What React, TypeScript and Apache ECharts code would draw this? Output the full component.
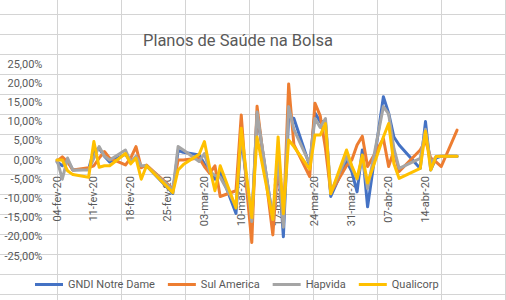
import React, { useEffect, useRef } from "react";
import * as echarts from "echarts";

const TITLE = "Planos de Saúde na Bolsa";
const MONTHS = ["jan", "fev", "mar", "abr", "mai", "jun", "jul", "ago", "set", "out", "nov", "dez"];
const FIRST_DAY = "2020-02-04";
const LAST_DAY = "2020-04-20";

const tradingDates = [
  "04-fev-20", "05-fev-20", "06-fev-20", "07-fev-20", "10-fev-20", "11-fev-20", "12-fev-20", "13-fev-20", "14-fev-20",
  "17-fev-20", "18-fev-20", "19-fev-20", "20-fev-20", "21-fev-20", "26-fev-20", "27-fev-20", "28-fev-20",
  "02-mar-20", "03-mar-20", "04-mar-20", "05-mar-20", "06-mar-20", "09-mar-20", "10-mar-20", "11-mar-20", "12-mar-20", "13-mar-20",
  "16-mar-20", "17-mar-20", "18-mar-20", "19-mar-20", "20-mar-20", "23-mar-20", "24-mar-20", "25-mar-20", "26-mar-20", "27-mar-20",
  "30-mar-20", "31-mar-20", "01-abr-20", "02-abr-20", "03-abr-20", "06-abr-20", "07-abr-20", "08-abr-20", "09-abr-20",
  "13-abr-20", "14-abr-20", "15-abr-20", "16-abr-20", "17-abr-20", "20-abr-20",
];

// daily returns, %
const gndi = [
  -0.5, -1.5, 0, -2.6, -2.4, 2.5, 3, 1, -0.5, 1.5, -0.5, 0.5, -1.8, -1.5, -8.7, 2.5, 2,
  1.3, -1, -3, -5, -3, -13.9, 6, -5, -16.5, 12, -15.5, 0.5, -20, 11.3, 10.8, -1.5, 12.2, 10, 10, -9.5, -0.3, -3,
  -8.3, 2.6, -12.2, 16.5, 12.2, 6, 3.9, -2.2, 10, -2.6, 0.5, 1, 1,
];
const sulAmerica = [
  -0.3, 0.8, -0.5, -2.6, -2, -1.5, 0.5, 2.2, 0.5, -1.3, 0.5, 3.5, -2, -1.3, -7.5, 0, 0,
  0.5, -1.7, -3.5, -1.5, -9.5, -8, 11.7, -7, -21.5, 14, -19.5, -0.5, -16.5, 19.8, 4, -4.3, 14.8, 11.5, 3, -8.5, -1.5, 0,
  3.9, 6.2, -1.7, 5.6, -1.7, 2.5, -3, 2.6, 5, 0.5, -0.5, -1.7, 7.8,
];
const hapvida = [
  0, -5, 0.5, -2.6, -2.6, 0.5, 3.5, 1, 0, 2.6, -0.5, 1, -1.5, -1.5, -7.8, 3.5, 2.6,
  -0.4, 1.7, -3, -4, -4.5, -12, 7, -5, -16, 12.5, -15.5, 1, -17.5, 13.9, 8, -1, 10.8, 8.5, 10.8, -8.5, 0.9, -2,
  -5, 0.5, -7.4, 13.9, 12, 3, -2.2, 0.4, 8, -1, 0.9, 1, 1,
];
const qualicorp = [
  0, 0, -2.8, -3.8, -4.5, 4.8, -1.9, -1.5, -1.5, 1.7, -1, 0.5, -5, -1.5, -8.5, -2.6, -1.2,
  1.5, 4.8, -2, -8, -1.5, -12.5, 8.3, -4, -15, 6, -15.5, 6, -14, 5.2, 3.5, -2.4, 6.5, 6.5, 9.5, -8.8, 2.6, -1.5,
  -4.8, 1.3, -6, 6, 9.5, -1, -4.8, -2.2, 7.5, -2.6, 0.9, 1, 1,
];

const seriesNames = ["GNDI Notre Dame", "Sul America", "Hapvida", "Qualicorp"];
const seriesColors = ["#4472C4", "#ED7D31", "#A5A5A5", "#FFC000"];
const seriesValues = [gndi, sulAmerica, hapvida, qualicorp];

function fmtDate(d: Date): string {
  const dd = String(d.getUTCDate()).padStart(2, "0");
  const yy = String(d.getUTCFullYear()).slice(2);
  return `${dd}-${MONTHS[d.getUTCMonth()]}-${yy}`;
}

function buildCalendar(): string[] {
  const out: string[] = [];
  const start = new Date(FIRST_DAY + "T00:00:00Z").getTime();
  const end = new Date(LAST_DAY + "T00:00:00Z").getTime();
  for (let t = start; t <= end; t += 86400000) out.push(fmtDate(new Date(t)));
  return out;
}

export default function App() {
  const ref = useRef<HTMLDivElement>(null);
  useEffect(() => {
    if (!ref.current) return;
    const chart = echarts.init(ref.current, undefined, { renderer: "svg" });
    const categories = buildCalendar();
    const series = seriesValues.map((vals, i) => {
      const m = new Map<string, number>();
      tradingDates.forEach((d, j) => m.set(d, vals[j]));
      return {
        name: seriesNames[i],
        type: "line",
        data: categories.map((c) => (m.has(c) ? m.get(c) : null)),
        connectNulls: true,
        showSymbol: false,
        symbol: "none",
        color: seriesColors[i],
        lineStyle: { width: 3, color: seriesColors[i], join: "round", cap: "round" },
        z: 2 + i,
      };
    });

    const grid: any[] = [];
    for (let k = 0; k < 8; k++) {
      const x = 57.5 + 64 * k;
      grid.push({ type: "line", silent: true, z: -10, shape: { x1: x, y1: 0, x2: x, y2: 300 }, style: { stroke: "#D4D4D4", lineWidth: 1 } });
    }
    for (let k = 0; k < 15; k++) {
      const y = 14.5 + 20 * k;
      grid.push({ type: "line", silent: true, z: -10, shape: { x1: 0, y1: y, x2: 506, y2: y }, style: { stroke: "#D4D4D4", lineWidth: 1 } });
    }

    chart.setOption({
      animation: false,
      textStyle: { fontFamily: "Roboto" },
      graphic: grid,
      title: {
        text: TITLE,
        left: 233,
        textAlign: "center",
        top: 27,
        textStyle: { fontFamily: "Roboto", fontSize: 16.5, fontWeight: "normal", color: "#595959" },
      },
      grid: { left: 54.4, right: 46.3, top: 64, bottom: 44, containLabel: false, outerBoundsMode: "none" },
      legend: {
        orient: "horizontal",
        left: 35,
        top: 279,
        padding: 0,
        height: 16,
        itemGap: 13,
        itemWidth: 28,
        itemHeight: 3,
        icon: "rect",
        data: seriesNames,
        textStyle: { fontFamily: "Roboto", fontSize: 11, color: "#595959" },
      },
      xAxis: {
        type: "category",
        data: categories,
        boundaryGap: true,
        offset: -96,
        axisLine: { show: false, onZero: false },
        axisTick: { show: false },
        splitLine: { show: false },
        axisLabel: { interval: 6, rotate: 90, margin: 16, fontSize: 11, color: "#595959", fontFamily: "Roboto" },
      },
      yAxis: {
        type: "value",
        min: -25,
        max: 25,
        interval: 5,
        axisLine: { show: false },
        axisTick: { show: false },
        splitLine: { show: false },
        axisLabel: {
          margin: 12,
          fontSize: 11,
          color: "#595959",
          fontFamily: "Roboto",
          formatter: (v: number) => v.toFixed(2).replace(".", ",") + "%",
        },
      },
      series,
    });
    return () => chart.dispose();
  }, []);
  return <div ref={ref} style={{ position: "absolute", left: 0, top: 0, width: 506, height: 300 }} />;
}
